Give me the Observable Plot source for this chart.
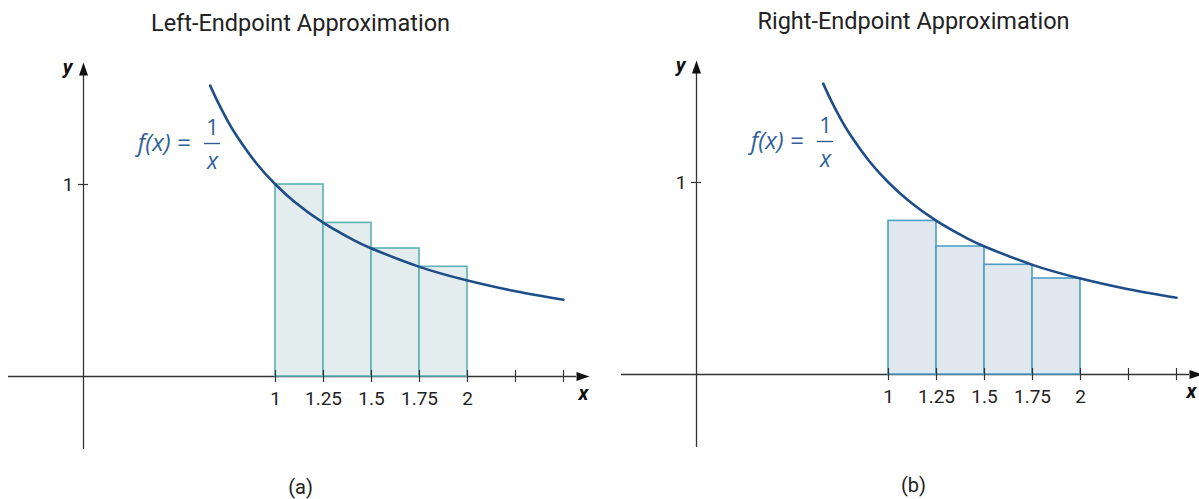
<!DOCTYPE html>
<html><head><meta charset="utf-8">
<script src="https://cdn.jsdelivr.net/npm/d3@7"></script>
<script src="https://cdn.jsdelivr.net/npm/@observablehq/plot@0.6"></script>
<style>
html,body{margin:0;padding:0;background:#fff;overflow:hidden;width:1199px;height:499px;}
#wrap{position:relative;width:1199px;height:499px;overflow:hidden;}
.panel{position:absolute;}
</style></head><body><div id="wrap"></div>
<script>
// ---- data ----
const titles = ["Left-Endpoint Approximation", "Right-Endpoint Approximation"];
const captions = ["(a)", "(b)"];
const partition = [1, 1.25, 1.5, 1.75, 2];
const leftHeights = [1, 0.8, 0.6667, 0.5714];
const rightHeights = [0.8, 0.6667, 0.5714, 0.5];
const xTicks = [1, 1.25, 1.5, 1.75, 2, 2.25, 2.5];
const xTickLabels = ["1", "1.25", "1.5", "1.75", "2"];
const yTicks = [1];
const yTickLabels = ["1"];
const curveX = [0.66, 0.7, 0.75, 0.8, 0.9, 1, 1.1, 1.25, 1.4, 1.5, 1.75, 2, 2.25, 2.5];
const curveY = [1.515, 1.429, 1.333, 1.25, 1.111, 1, 0.909, 0.8, 0.714, 0.667, 0.571, 0.5, 0.444, 0.4];
const labelParts = ["f(x) =", "1", "x"];

// ---- layout ----
const U = 192;           // pixels per unit (both axes)
const W = 600, H = 499;  // panel size
const ox = 83, oy = 376; // origin in panel pixels
const px = p => (p - ox) / U;   // panel pixel -> x value
const py = p => (oy - p) / U;   // panel pixel -> y value

const arrowHead = {draw(ctx) { ctx.moveTo(0, -13); ctx.lineTo(4.5, 0); ctx.lineTo(-4.5, 0); ctx.closePath(); }};
const axisColor = "#333";
const curveColor = "#1d4e89";
const labelColor = "#2f5f9b";
const labelFont = "'Open Sans', sans-serif";

function panel(i, heights, fill, stroke, xLabelPx) {
  const rects = heights.map((h, k) => ({x1: partition[k], x2: partition[k + 1], h}));
  const curve = curveX.map((x, k) => ({x, y: curveY[k]}));
  const xlabs = xTickLabels.map((t, k) => ({v: xTicks[k], t}));
  const ylabs = yTickLabels.map((t, k) => ({v: yTicks[k], t}));
  return Plot.plot({
    width: W, height: H, margin: 0,
    x: {domain: [px(0), px(W)], axis: null},
    y: {domain: [py(H), py(0)], axis: null},
    style: {fontFamily: "Roboto, 'Liberation Sans', sans-serif", background: "transparent", overflow: "visible"},
    marks: [
      Plot.text([titles[i]], {frameAnchor: "top", dy: 14, fontSize: 23.5, fill: "#222"}),
      Plot.text([captions[i]], {frameAnchor: "bottom", dy: -6, fontSize: 20, fill: "#222"}),
      // axes
      Plot.ruleY([0], {x1: px(8), x2: px(576), stroke: axisColor, strokeWidth: 1.3}),
      Plot.ruleX([0], {y1: py(449), y2: py(75), stroke: axisColor, strokeWidth: 1.3}),
      Plot.dot([0], {x: px(576), y: 0, symbol: arrowHead, rotate: 90, fill: "#111", stroke: null}),
      Plot.dot([0], {x: 0, y: py(75), symbol: arrowHead, fill: "#111", stroke: null}),
      // rectangles
      Plot.rect(rects, {x1: "x1", x2: "x2", y1: 0, y2: "h", fill, stroke, strokeWidth: 1.6}),
      // ticks
      Plot.ruleX(xTicks, {x: d => d, y1: -6 / U, y2: 6 / U, stroke: axisColor, strokeWidth: 1.2}),
      Plot.ruleY(yTicks, {y: d => d, x1: -5 / U, x2: 5 / U, stroke: axisColor, strokeWidth: 1.2}),
      Plot.text(xlabs, {x: "v", y: 0, text: "t", dy: 22, fontSize: 19, fill: "#222"}),
      Plot.text(ylabs, {x: 0, y: "v", text: "t", dx: -10, textAnchor: "end", fontSize: 19, fill: "#222"}),
      Plot.text(["x"], {x: px(xLabelPx), y: 0, dy: 17, fontSize: 20, fontWeight: "bold", fontStyle: "italic", fill: "#111"}),
      Plot.text(["y"], {x: 0, y: py(67), dx: -16, fontSize: 20, fontWeight: "bold", fontStyle: "italic", fill: "#111"}),
      // curve
      Plot.line(curve, {x: "x", y: "y", curve: "natural", stroke: curveColor, strokeWidth: 2.6}),
      // label f(x) = 1/x
      Plot.text([labelParts[0]], {x: px(190), y: py(143), textAnchor: "end", fontSize: 24, fontStyle: "italic", fill: labelColor, fontFamily: labelFont}),
      Plot.text([labelParts[1]], {x: px(212), y: py(127), fontSize: 22, fill: labelColor, fontFamily: labelFont}),
      Plot.ruleY([py(143)], {x1: px(204), x2: px(220), stroke: labelColor, strokeWidth: 1.4}),
      Plot.text([labelParts[2]], {x: px(212), y: py(161), fontSize: 23, fontStyle: "italic", fill: labelColor, fontFamily: labelFont})
    ]
  });
}

const wrap = document.getElementById("wrap");
const a = panel(0, leftHeights, "#e3eded", "#5ab2b2", 583);
a.classList.add("panel"); a.style.left = "0px"; a.style.top = "0px";
const b = panel(1, rightHeights, "#e0e7ef", "#4b9fc5", 578);
b.classList.add("panel"); b.style.left = "613px"; b.style.top = "-2px";
wrap.appendChild(a); wrap.appendChild(b);
</script></body></html>
